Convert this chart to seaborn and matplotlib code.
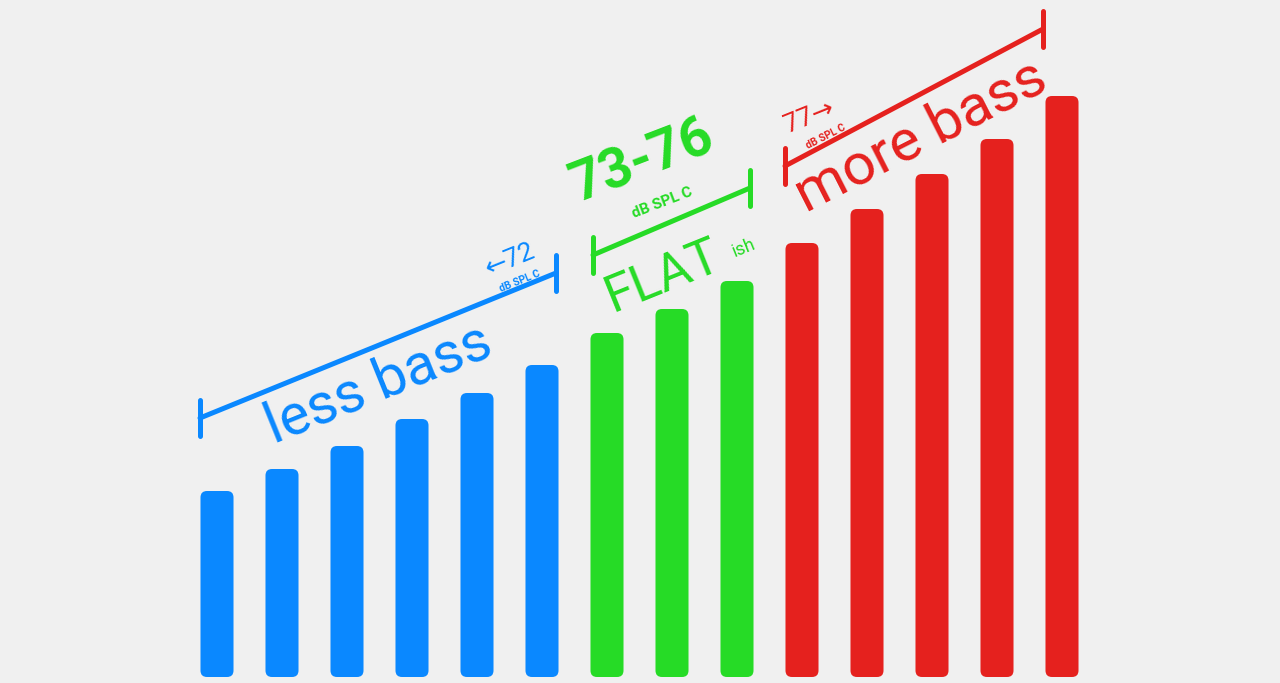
import numpy as np
import pandas as pd
import matplotlib
matplotlib.use('Agg')
import matplotlib.pyplot as plt
import seaborn as sns
from matplotlib.patches import FancyBboxPatch
from matplotlib.lines import Line2D

# ── data ─────────────────────────────────────────────────────────────────────
steps = list(range(1, 15))
levels = [186, 208, 231, 258, 284, 312, 344, 368, 396, 434, 468, 503, 538, 581]
groups = ['less'] * 6 + ['flat'] * 3 + ['more'] * 5

colors = {'less': '#0A88FF', 'flat': '#26DB26', 'more': '#E5211E'}
BG = '#F0F0F0'
FONT = ['Roboto', 'DejaVu Sans']

df = pd.DataFrame({'step': steps, 'level': levels, 'group': groups})

W, H = 1280, 683
fig = plt.figure(figsize=(W / 100, H / 100), dpi=100, facecolor=BG)
ax = fig.add_axes([0, 0, 1, 1])
ax.set_facecolor(BG)

sns.barplot(data=df, x='step', y='level', hue='group', palette=colors,
            dodge=False, width=0.508, saturation=1, legend=False, ax=ax)

# pixel layout: first bar centre at x=217, pitch 65 px, base at y=677
ax.set_xlim(-217 / 65, (W - 217) / 65)
ax.set_ylim(-(H - 677), 677)
ax.axis('off')

# swap the plain rectangles for rounded ones
for p in list(ax.patches):
    x0, y0, w, h = p.get_x(), p.get_y(), p.get_width(), p.get_height()
    if h <= 0:
        continue
    fb = FancyBboxPatch((x0, y0), w, h,
                        boxstyle='round,pad=0,rounding_size=0.1',
                        mutation_aspect=65,
                        facecolor=p.get_facecolor(), edgecolor='none')
    p.remove()
    ax.add_patch(fb)


# ── annotations (pixel coords, y down) ───────────────────────────────────────
def fx(x):
    return x / W


def fy(y):
    return 1 - y / H


def bracket(x1, y1, x2, y2, color, cap=36):
    kw = dict(color=color, lw=3.6, solid_capstyle='round', transform=fig.transFigure)
    fig.add_artist(Line2D([fx(x1), fx(x2)], [fy(y1), fy(y2)], **kw))
    fig.add_artist(Line2D([fx(x1), fx(x1)], [fy(y1 - cap / 2), fy(y1 + cap / 2)], **kw))
    fig.add_artist(Line2D([fx(x2), fx(x2)], [fy(y2 - cap / 2), fy(y2 + cap / 2)], **kw))


def label(x, y, s, color, size, rot, weight='normal'):
    fig.text(fx(x), fy(y), s, color=color, fontsize=size, rotation=rot,
             rotation_mode='anchor', ha='center', va='baseline',
             fontweight=weight, family=FONT)


# less bass
c = colors['less']
bracket(200, 418, 556, 273, c)
label(384, 399, 'less bass', c, 41, 22)
label(513, 266, '←72', c, 19, 22)
label(521, 284, 'dB SPL C', c, 7.5, 22, 'bold')

# flat-ish
c = colors['flat']
bracket(593, 255, 750, 188, c)
label(648, 176, '73-76', c, 40, 21, 'bold')
label(664, 207, 'dB SPL C', c, 11, 21, 'bold')
label(668, 290, 'FLAT', c, 37, 22)
label(746, 253, 'ish', c, 13, 22)

# more bass
c = colors['more']
bracket(785, 166, 1043, 29, c)
label(928, 150, 'more bass', c, 42, 27)
label(812, 123, '77→', c, 19, 22)
label(827, 139, 'dB SPL C', c, 7.5, 27, 'bold')

plt.savefig('out.png', dpi=100, facecolor=BG)
plt.close()
